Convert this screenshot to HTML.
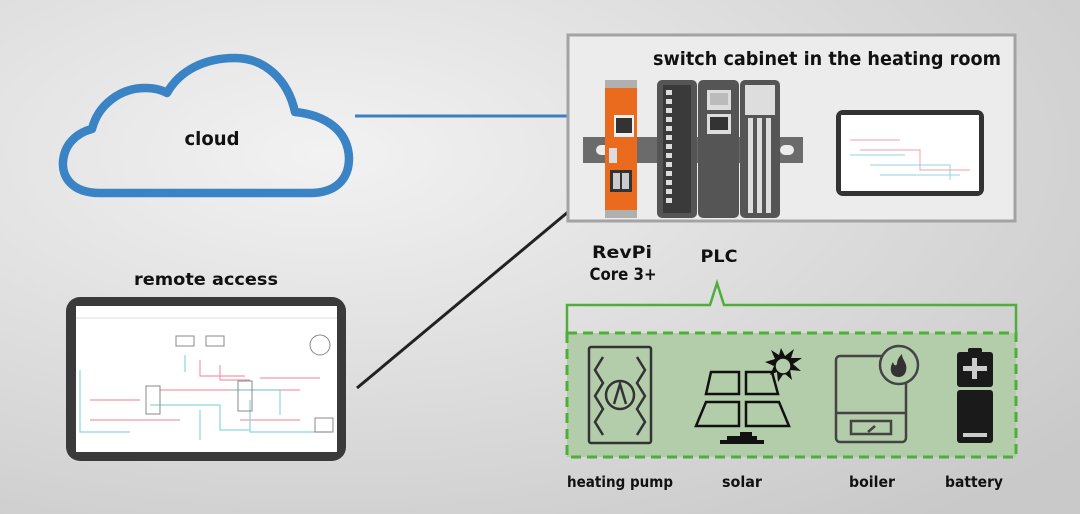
<!DOCTYPE html>
<html><head><meta charset="utf-8"><style>
html,body{margin:0;padding:0;width:1080px;height:514px;overflow:hidden}
svg{display:block}
text{font-family:"DejaVu Sans","Liberation Sans",sans-serif;font-weight:bold;fill:#111}
</style></head><body>
<svg width="1080" height="514" viewBox="0 0 1080 514" xmlns="http://www.w3.org/2000/svg">
<defs>
<radialGradient id="bg" cx="0.3" cy="0.3" r="0.9">
<stop offset="0" stop-color="#f2f2f2"/><stop offset="1" stop-color="#c9c9c9"/>
</radialGradient>
</defs>
<rect width="1080" height="514" fill="url(#bg)"/>

<!-- cloud -->
<path d="M100,193 C70,193 62,175 63,162 C64,145 76,133 92,129 C98,105 120,88 145,88 C155,88 162,90 167,93 C180,70 205,58 235,58 C265,58 288,80 295,112 C325,115 348,130 349,158 C349,180 335,193 310,193 Z" fill="none" stroke="#3a83c4" stroke-width="8.5" stroke-linejoin="round"/>
<text x="212" y="145" font-size="19" text-anchor="middle" textLength="55" lengthAdjust="spacingAndGlyphs">cloud</text>

<line x1="355" y1="116" x2="586" y2="116" stroke="#3b7fc0" stroke-width="3"/>
<line x1="357" y1="388" x2="586" y2="197" stroke="#222" stroke-width="3"/>

<!-- cabinet -->
<rect x="568" y="35" width="447" height="186" fill="#ececec" stroke="#a3a3a3" stroke-width="3"/>
<text x="653" y="65" font-size="19" textLength="348" lengthAdjust="spacingAndGlyphs">switch cabinet in the heating room</text>
<!-- din rail -->
<rect x="583" y="137" width="220" height="26" fill="#6b6b6b"/>
<rect x="596" y="145" width="14" height="10" rx="5" fill="#ececec"/>
<rect x="780" y="145" width="14" height="10" rx="5" fill="#ececec"/>
<!-- revpi -->
<rect x="605" y="80" width="32" height="138" fill="#ea6a1e"/>
<rect x="605" y="80" width="32" height="8" fill="#b0b0b0"/>
<rect x="605" y="210" width="32" height="8" fill="#b0b0b0"/>
<rect x="614" y="115" width="20" height="22" fill="#f0f0f0"/><rect x="616" y="118" width="16" height="15" fill="#333"/>
<rect x="609" y="148" width="8" height="15" fill="#ddd"/>
<rect x="610" y="170" width="22" height="22" fill="#333"/><rect x="613" y="173" width="7" height="16" fill="#ccc"/><rect x="622" y="173" width="7" height="16" fill="#ccc"/>
<!-- modules -->
<rect x="657" y="80" width="40" height="138" rx="5" fill="#555"/>
<rect x="663" y="85" width="28" height="128" fill="#3a3a3a"/>
<g fill="#ddd">
<rect x="666" y="90" width="6" height="5"/><rect x="666" y="99" width="6" height="5"/><rect x="666" y="108" width="6" height="5"/><rect x="666" y="117" width="6" height="5"/><rect x="666" y="126" width="6" height="5"/><rect x="666" y="135" width="6" height="5"/><rect x="666" y="144" width="6" height="5"/><rect x="666" y="153" width="6" height="5"/><rect x="666" y="162" width="6" height="5"/><rect x="666" y="171" width="6" height="5"/><rect x="666" y="180" width="6" height="5"/><rect x="666" y="189" width="6" height="5"/><rect x="666" y="198" width="6" height="5"/>
</g>
<rect x="698" y="80" width="41" height="138" rx="5" fill="#555"/>
<rect x="707" y="90" width="24" height="20" fill="#ddd"/><rect x="710" y="93" width="18" height="12" fill="#bbb"/>
<rect x="707" y="114" width="24" height="20" fill="#ddd"/><rect x="710" y="117" width="18" height="13" fill="#333"/>
<rect x="740" y="80" width="40" height="138" rx="5" fill="#555"/>
<rect x="745" y="85" width="30" height="30" fill="#ddd"/>
<rect x="748" y="118" width="5" height="95" fill="#ddd"/><rect x="757" y="118" width="5" height="95" fill="#ddd"/><rect x="766" y="118" width="5" height="95" fill="#ddd"/>
<!-- small tablet -->
<rect x="836" y="110" width="148" height="86" rx="7" fill="#333"/>
<rect x="841" y="115" width="138" height="76" fill="#fff"/>
<g fill="none" stroke-width="1">
<path d="M850,140 H900 M860,150 H920 V170 H970" stroke="#f0a0a8"/>
<path d="M850,155 H905 M870,165 H950 V180 M880,175 H960" stroke="#8fd6e0"/>
</g>

<text x="622" y="258" font-size="17" text-anchor="middle" textLength="60" lengthAdjust="spacingAndGlyphs">RevPi</text>
<text x="623" y="280" font-size="17" text-anchor="middle" textLength="67" lengthAdjust="spacingAndGlyphs">Core 3+</text>
<text x="719" y="262" font-size="17" text-anchor="middle" textLength="37" lengthAdjust="spacingAndGlyphs">PLC</text>

<!-- bracket -->
<path d="M567,333 V305 H710 L717,283 L724,305 H1016 V333" fill="none" stroke="#4fae3a" stroke-width="2.5"/>
<rect x="567" y="333" width="449" height="124" fill="#b3cdaa" stroke="#4fae3a" stroke-width="3" stroke-dasharray="10,6"/>

<!-- heat pump -->
<g fill="none" stroke="#333" stroke-width="2.5">
<rect x="589" y="347" width="62" height="96" rx="2"/>
<circle cx="620" cy="395" r="14"/>
<path d="M614,404 L620,384 L626,404"/>
<path d="M603,357 L595,370 L603,383 L595,396 L603,409 L595,422 L603,435"/>
<path d="M637,357 L645,370 L637,383 L645,396 L637,409 L645,422 L637,435"/>
</g>
<!-- solar -->
<g fill="none" stroke="#111" stroke-width="2.5">
<path d="M711,372 H739 V394 H706 Z"/><path d="M746,372 H772 L778,394 H746 Z"/>
<path d="M706,402 H739 V426 H696 Z"/><path d="M746,402 H779 L789,426 H746 Z"/>
</g>
<rect x="740" y="432" width="12" height="4" fill="#111"/><rect x="727" y="436" width="30" height="4" fill="#111"/><rect x="720" y="440" width="44" height="4" fill="#111"/>
<polygon points="781,348 785,356 794,349 791,358 802,358 793,364 801,371 790,370 792,380 784,373 778,382 777,372 770,375 774,366 765,362 775,359 771,350 779,355" fill="#111"/>
<circle cx="783" cy="366" r="8" fill="#b3cdaa" stroke="#111" stroke-width="1.5"/>
<!-- boiler -->
<g fill="none" stroke="#444" stroke-width="2.5">
<rect x="836" y="356" width="70" height="86" rx="4"/>
<line x1="836" y1="413" x2="906" y2="413"/>
<rect x="851" y="421" width="40" height="13"/>
<line x1="868" y1="432" x2="875" y2="426"/>
</g>
<circle cx="899" cy="365" r="19" fill="#b3cdaa" stroke="#444" stroke-width="2.5"/>
<path d="M899,377 C890,377 889,368 893,362 C894,366 896,366 897,364 C897,359 900,356 902,354 C902,360 908,363 906,371 C905,375 902,377 899,377 Z" fill="#333"/>
<!-- battery -->
<rect x="968" y="348" width="14" height="5" rx="2" fill="#1a1a1a"/>
<rect x="957" y="352" width="36" height="35" rx="3" fill="#1a1a1a"/>
<rect x="957" y="390" width="36" height="53" rx="3" fill="#1a1a1a"/>
<rect x="963" y="366" width="24" height="5" fill="#ccc"/><rect x="972" y="358" width="5" height="21" fill="#ccc"/>
<rect x="963" y="433" width="24" height="4" fill="#ccc"/>

<text x="567" y="487" font-size="15" textLength="106" lengthAdjust="spacingAndGlyphs">heating pump</text>
<text x="722" y="487" font-size="15" textLength="40" lengthAdjust="spacingAndGlyphs">solar</text>
<text x="849" y="487" font-size="15" textLength="46" lengthAdjust="spacingAndGlyphs">boiler</text>
<text x="945" y="487" font-size="15" textLength="58" lengthAdjust="spacingAndGlyphs">battery</text>

<!-- remote tablet -->
<text x="134" y="285" font-size="17" textLength="144" lengthAdjust="spacingAndGlyphs">remote access</text>
<rect x="66" y="297" width="280" height="164" rx="14" fill="#3a3a3a"/>
<rect x="76" y="306" width="261" height="146" fill="#fff"/>
<line x1="76" y1="318" x2="337" y2="318" stroke="#ddd" stroke-width="1"/>
<g fill="none" stroke-width="1.2">
<path d="M90,400 H140 M90,420 H180 M160,390 H300 M200,360 V376 H245 M220,365 V380 H250 M240,420 H300 M260,378 H320" stroke="#f39aa4"/>
<path d="M80,370 V432 H130 M150,405 H220 V430 H250 M185,355 V372 M200,410 V440 M250,400 V432 H330 M230,390 H280 V415" stroke="#8ad6e0"/>
</g>
<g fill="none" stroke="#888" stroke-width="1">
<rect x="176" y="336" width="18" height="10"/><rect x="206" y="336" width="18" height="10"/>
<rect x="146" y="386" width="14" height="28"/><rect x="238" y="381" width="14" height="30"/>
<circle cx="320" cy="345" r="10"/><rect x="315" y="418" width="18" height="14"/>
</g>
</svg>
</body></html>
